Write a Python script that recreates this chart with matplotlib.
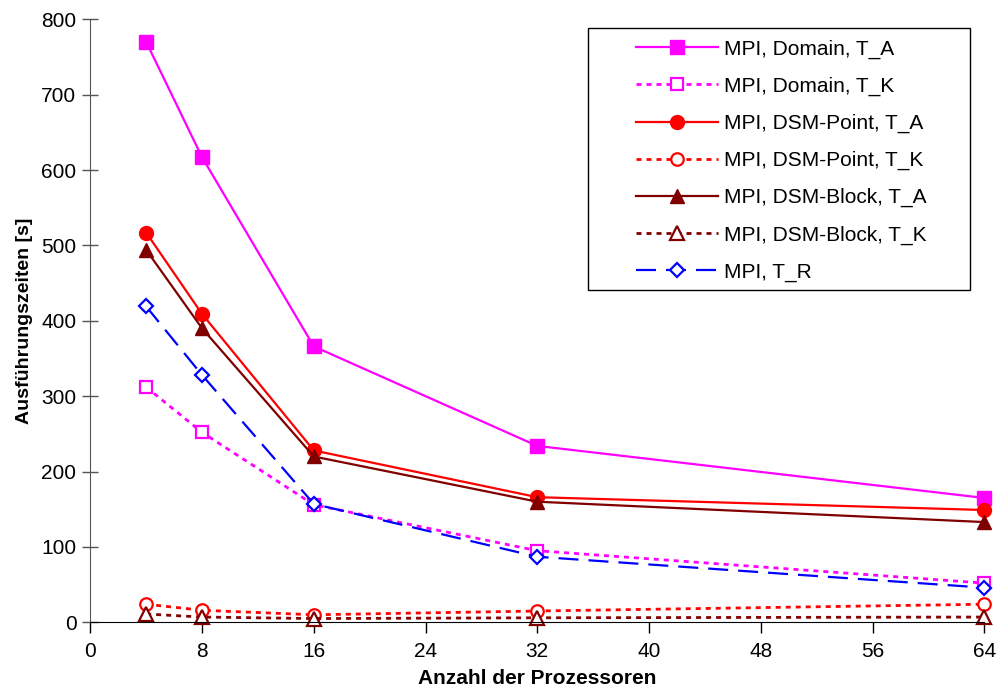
import matplotlib
matplotlib.use("Agg")
import matplotlib.pyplot as plt
from matplotlib.patches import Rectangle

plt.rcParams["font.family"] = ["Liberation Sans", "DejaVu Sans"]

# Processor counts and measured times in seconds
procs = [4, 8, 16, 32, 64]
domain_ta = [770, 617, 366, 234, 165]
domain_tk = [312, 252, 156, 95, 52]
point_ta = [517, 409, 228, 166, 149]
point_tk = [24, 16, 10, 15, 24]
block_ta = [494, 390, 220, 160, 133]
block_tk = [11, 7, 5, 6, 7]
mpi_tr = [419, 328, 157, 87, 46]

labels = [
    "MPI, Domain, T_A",
    "MPI, Domain, T_K",
    "MPI, DSM-Point, T_A",
    "MPI, DSM-Point, T_K",
    "MPI, DSM-Block, T_A",
    "MPI, DSM-Block, T_K",
    "MPI, T_R",
]

W, H = 999, 692
fig = plt.figure(figsize=(W / 100, H / 100), dpi=100)
ax = fig.add_axes([0.0904, 0.1007, 0.8949, 0.8714])

magenta = "#ff00ff"
red = "#ff0000"
dark = "#800000"
blue = "#0000ff"
dots = (0, (1.8, 1.8))
lw = 1.6
lw_dot = 2.0

ax.plot(procs, domain_ta, color=magenta, lw=lw, marker="s", ms=10.5,
        mfc=magenta, mec=magenta, label=labels[0])
ax.plot(procs, domain_tk, color=magenta, lw=lw_dot, ls=dots, marker="s", ms=9,
        mfc="white", mec=magenta, mew=1.6, label=labels[1])
ax.plot(procs, point_ta, color=red, lw=lw, marker="o", ms=10,
        mfc=red, mec=red, label=labels[2])
ax.plot(procs, point_tk, color=red, lw=lw_dot, ls=dots, marker="o", ms=9,
        mfc="white", mec=red, mew=1.6, label=labels[3])
ax.plot(procs, block_ta, color=dark, lw=lw, marker="^", ms=10.5,
        mfc=dark, mec=dark, label=labels[4])
ax.plot(procs, block_tk, color=dark, lw=lw_dot, ls=dots, marker="^", ms=10,
        mfc="white", mec=dark, mew=1.6, label=labels[5])
ax.plot(procs, mpi_tr, color=blue, lw=lw, ls=(0, (9, 4.5)), marker="D", ms=7,
        mfc="white", mec=blue, mew=1.6, label=labels[6])

ax.set_xlim(0, 64)
ax.set_ylim(0, 800)
ax.set_xticks(range(0, 65, 8))
ax.set_yticks(range(0, 801, 100))

for side in ("top", "right"):
    ax.spines[side].set_visible(False)
ax.spines["left"].set_color("#555555")
ax.spines["bottom"].set_color("black")
ax.tick_params(axis="y", direction="inout", length=12, width=1,
               color="#555555", labelsize=15, pad=4)
ax.tick_params(axis="x", direction="out", length=8, width=1,
               labelsize=15, pad=6)
for line in ax.lines:
    line.set_clip_on(False)

ax.set_xlabel("Anzahl der Prozessoren", fontsize=15, fontweight="bold", labelpad=6)
ax.set_ylabel("Ausführungszeiten [s]", fontsize=14, fontweight="bold", labelpad=6)

# legend box drawn separately so it can have wide side margins
box = Rectangle((588 / W, 1 - 290 / H), 382 / W, 262 / H,
                transform=fig.transFigure, facecolor="white",
                edgecolor="black", linewidth=1.0, zorder=1)
fig.add_artist(box)

handles, _ = ax.get_legend_handles_labels()
leg = fig.legend(handles, labels, loc="upper left",
                 bbox_to_anchor=(636 / W, 1 - 39.5 / H),
                 fontsize=15, frameon=False, handlelength=3.94,
                 handletextpad=0.3, labelspacing=0.86, borderpad=0,
                 borderaxespad=0)
leg.set_zorder(5)

fig.savefig("out.png", dpi=100)
